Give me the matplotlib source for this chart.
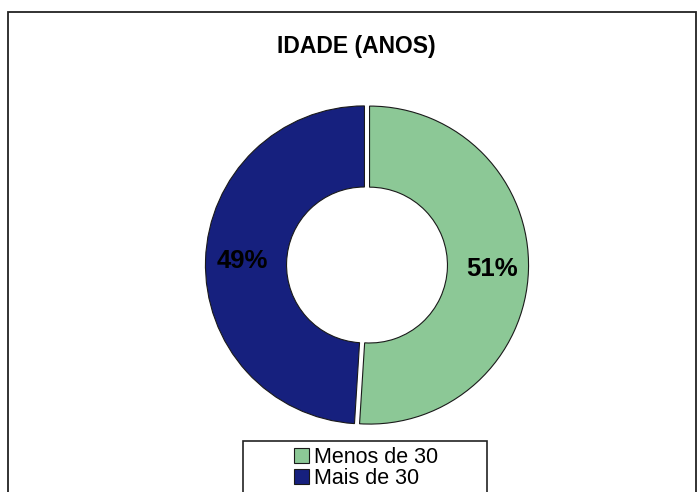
import matplotlib.pyplot as plt
from matplotlib.patches import Rectangle

plt.rcParams['font.family'] = ['Liberation Sans', 'DejaVu Sans']

# age split of respondents
labels = ['Menos de 30', 'Mais de 30']
shares = [51, 49]
colors = ['#8cc896', '#16207e']
title = 'IDADE (ANOS)'

W, H = 697, 492
fig = plt.figure(figsize=(W / 100, H / 100), dpi=100)

# outer frame of the chart area
fig.patches.append(Rectangle((8 / W, -0.05), (W - 9) / W, 1.05 - 12 / H,
                             transform=fig.transFigure, fill=False,
                             edgecolor='#222222', linewidth=1.3))

fig.text(356 / W, 1 - 47 / H, title, ha='center', va='center',
         fontsize=16.5, fontweight='bold')

# donut: centre ~ (367, 265) px, outer radius ~159 px
cx, cy, r = 367, 265, 159
span = 1.1
side = r * span * 2
ax = fig.add_axes([(cx - side / 2) / W, (H - cy - side / 2) / H, side / W, side / H])
wedges, _, pcts = ax.pie(shares, colors=colors, startangle=90, counterclock=False,
                         explode=[0.016, 0.016], radius=1.0,
                         autopct='%d%%', pctdistance=0.77,
                         wedgeprops=dict(width=0.51, edgecolor='#1a1a1a', linewidth=0.8),
                         textprops=dict(fontsize=18.5, fontweight='bold', color='black'))
ax.set_xlim(-span, span)
ax.set_ylim(-span, span)
ax.set_aspect('equal')
ax.axis('off')

# legend box, runs off the bottom edge
fig.patches.append(Rectangle((243 / W, -0.05), (487 - 243) / W, 0.05 + 1 - 441 / H,
                             transform=fig.transFigure, fill=False,
                             edgecolor='#222222', linewidth=1.2))
fig.legend(wedges, labels, loc='upper center', bbox_to_anchor=(366 / W, 1 - 436 / H),
           frameon=False, fontsize=15.5, handlelength=0.7, handleheight=0.7,
           handletextpad=0.25, labelspacing=0.0, borderpad=0.0)

fig.savefig('out.png', dpi=100)
